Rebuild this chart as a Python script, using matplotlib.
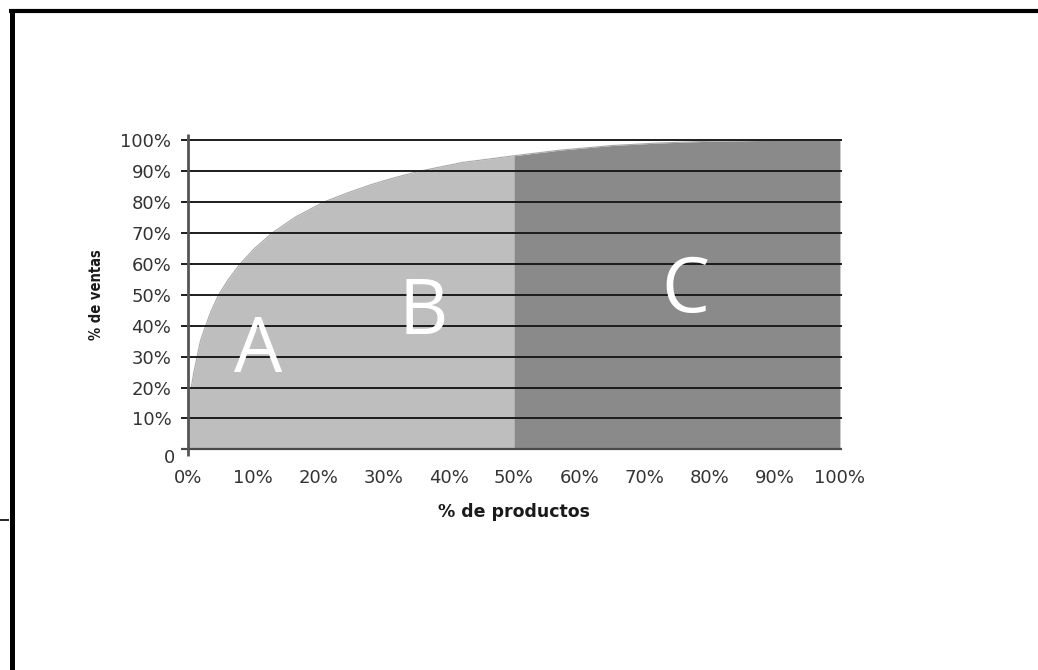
import numpy as np
import matplotlib.pyplot as plt
from matplotlib.lines import Line2D

# values (percent)
pct_products = [0, 0.5, 0.9, 1.4, 1.9, 2.7, 3.5, 4.7, 6.2, 8.0, 10.2, 12.9, 16.5, 20.8,
                24.5, 28, 31.5, 35.5, 42, 50, 57, 65, 72, 80, 90, 100]
pct_sales = [18, 20, 25, 30, 35, 40, 44.5, 50, 55, 60, 65, 70, 75.2, 80,
             83, 85.6, 87.8, 90, 92.8, 95, 96.8, 98.3, 99.1, 99.7, 100, 100]
split_at = 50
yticks = [0, 10, 20, 30, 40, 50, 60, 70, 80, 90, 100]
ytick_labels = ['', '10%', '20%', '30%', '40%', '50%', '60%', '70%', '80%', '90%', '100%']
xticks = [0, 10, 20, 30, 40, 50, 60, 70, 80, 90, 100]
xtick_labels = ['0%', '10%', '20%', '30%', '40%', '50%', '60%', '70%', '80%', '90%', '100%']
zones = ['A', 'B', 'C']
zone_pos = [(10.8, 31.5), (36.1, 44), (76.3, 51)]

x = np.array(pct_products, dtype=float)
y = np.array(pct_sales, dtype=float)

fig = plt.figure(figsize=(10.38, 6.70), dpi=100)
ax = fig.add_axes([0.1811, 0.3294, 0.6281, 0.4612])

light = '#bebebe'
dark = '#8a8a8a'
ax.fill_between(x, 0, y, where=x <= split_at, color=light, lw=0, zorder=1)
ax.fill_between(x, 0, y, where=x >= split_at, color=dark, lw=0, zorder=1)
ax.plot(x, y, color='#a8a8a8', lw=0.8, zorder=1.5)

# horizontal rules
for v in yticks[1:]:
    ax.plot([-1.1, 100.3], [v, v], color='#1c1c1c', lw=1.4, zorder=2, clip_on=False,
            solid_capstyle='butt')
ax.plot([-1.1, 100.3], [0, 0], color='#4a4a4a', lw=1.6, zorder=2, clip_on=False,
        solid_capstyle='butt')
# vertical axis line
ax.plot([0, 0], [-2.2, 102], color='#555555', lw=2.0, zorder=3, clip_on=False,
        solid_capstyle='butt')

for s in ax.spines.values():
    s.set_visible(False)

ax.set_xlim(0, 100)
ax.set_ylim(0, 100)
ax.set_yticks(yticks)
ax.set_yticklabels(ytick_labels)
ax.set_xticks(xticks)
ax.set_xticklabels(xtick_labels)
ax.tick_params(axis='y', length=0, pad=12, labelsize=13, labelcolor='#333333')
ax.tick_params(axis='x', length=0, pad=14, labelsize=13, labelcolor='#333333')
ax.annotate('0', xy=(0, 0), xytext=(-13, -6.5), textcoords='offset points',
            ha='center', va='center', fontsize=13, color='#333333')

for lab, (px, py) in zip(zones, zone_pos):
    ax.text(px, py, lab, color='white', fontsize=55, family='Open Sans',
            ha='center', va='center', zorder=4)

ax.set_xlabel('% de productos', fontsize=12.5, fontweight='bold', color='#1a1a1a', labelpad=12)
ax.set_ylabel('% de ventas', fontsize=10.5, fontweight='bold', color='#1a1a1a',
              labelpad=12, fontstretch='condensed')

# page frame
fig.add_artist(Line2D([0.0087, 1.0], [0.9843, 0.9843], transform=fig.transFigure,
                      color='black', lw=3.0, solid_capstyle='butt'))
fig.add_artist(Line2D([0.0111, 0.0111], [0.0, 0.9873], transform=fig.transFigure,
                      color='black', lw=3.6, solid_capstyle='butt'))
fig.add_artist(Line2D([0.0, 0.0087], [0.2239, 0.2239], transform=fig.transFigure,
                      color='black', lw=1.2, solid_capstyle='butt'))

plt.savefig('out.png', dpi=100)
